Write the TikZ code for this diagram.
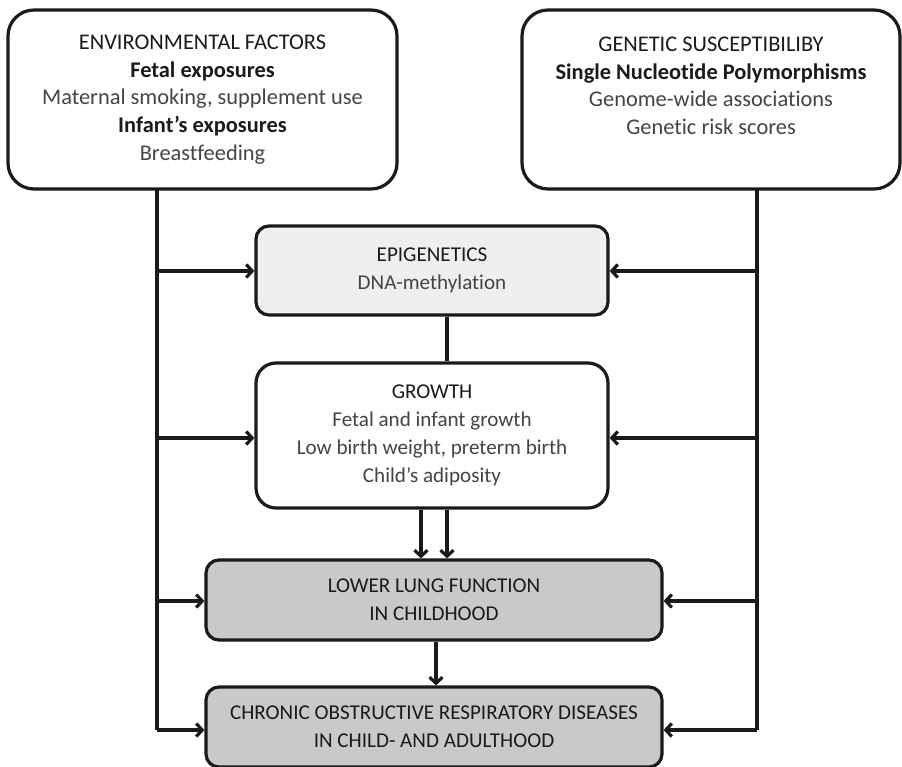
\documentclass[tikz,border=0pt]{standalone}
\usepackage{fontspec}
\setmainfont[Ligatures={NoCommon}]{Carlito}
\usetikzlibrary{arrows.meta}
\definecolor{headc}{HTML}{1A1A1A}
\definecolor{bodyc}{HTML}{444444}
\definecolor{epifill}{HTML}{EEEFEF}
\definecolor{lungfill}{HTML}{C8C9CA}
\newcommand{\hd}[1]{{\color{headc}#1}}
\newcommand{\sh}[1]{{\color{headc}\bfseries #1}}
\newcommand{\bd}[1]{{\color{bodyc}#1}}
\begin{document}
\begin{tikzpicture}[x=1pt,y=-1pt,
  box/.style={draw=headc, line width=3.2pt, rounded corners=#1, align=center, inner sep=0pt,
    font=\fontsize{22.4}{27.7}\selectfont},
  box/.default=20pt,
  midtext/.style={font=\fontsize{21.1}{28}\selectfont},
  conn/.style={draw=headc, line width=3.2pt},
  arr/.style={conn, -{Straight Barb[length=6pt,width=13pt,line width=3.2pt]}}]
\useasboundingbox (0,0) rectangle (902,767);
% top boxes
\node[box=26pt, minimum width=389pt, minimum height=179pt] (env) at (202.5,99.5)
  {\hd{ENVIRONMENTAL FACTORS}\\ \sh{Fetal exposures}\\ \bd{Maternal smoking, supplement use}\\ \sh{Infant’s exposures}\\ \bd{Breastfeeding}};
\node[box=26pt, minimum width=378pt, minimum height=179pt] (gen) at (711,99.5)
  {\hd{GENETIC SUSCEPTIBILIBY}\\ \sh{Single Nucleotide Polymorphisms}\\ \bd{Genome-wide associations}\\ \bd{Genetic risk scores}\\ \mbox{}};
% middle boxes
\node[box=13pt, midtext, fill=epifill, minimum width=352pt, minimum height=89pt] (epi) at (432,270.5)
  {\hd{EPIGENETICS}\\ \bd{DNA-methylation}};
\node[box=20pt, midtext, fill=white, minimum width=352pt, minimum height=145pt] (gro) at (432,435.5)
  {\hd{GROWTH}\\ \bd{Fetal and infant growth}\\ \bd{Low birth weight, preterm birth}\\ \bd{Child’s adiposity}};
\node[box=13pt, midtext, fill=lungfill, minimum width=456pt, minimum height=80pt] (lung) at (434,600)
  {\hd{LOWER LUNG FUNCTION}\\ \hd{IN CHILDHOOD}};
\node[box=13pt, midtext, fill=lungfill, minimum width=456pt, minimum height=80pt] (copd) at (434,727)
  {\hd{CHRONIC OBSTRUCTIVE RESPIRATORY DISEASES}\\ \hd{IN CHILD- AND ADULTHOOD}};
% trunk coordinates
\coordinate (lt) at (157,189);
\coordinate (lb) at (157,730);
\coordinate (rt) at (757,189);
\coordinate (rb) at (757,730);
\draw[conn] (lt) -- (lb);
\draw[conn] (rt) -- (rb);
% left branches
\draw[arr] (157,271) -- (epi.west |- 0,271);
\draw[arr] (157,438) -- (gro.west |- 0,438);
\draw[arr] (157,601) -- (lung.west |- 0,601);
\draw[arr] (lb) -- (copd.west |- lb);
% right branches
\draw[arr] (757,271) -- (epi.east |- 0,271);
\draw[arr] (757,438) -- (gro.east |- 0,438);
\draw[arr] (757,601) -- (lung.east |- 0,601);
\draw[arr] (rb) -- (copd.east |- rb);
% vertical links
\draw[conn] (epi.south -| 447,0) -- (gro.north -| 447,0);
\draw[arr] (gro.south -| 421,0) -- (lung.north -| 421,0);
\draw[arr] (gro.south -| 447,0) -- (lung.north -| 447,0);
\draw[arr] (lung.south -| 436,0) -- (copd.north -| 436,0);
\end{tikzpicture}
\end{document}
